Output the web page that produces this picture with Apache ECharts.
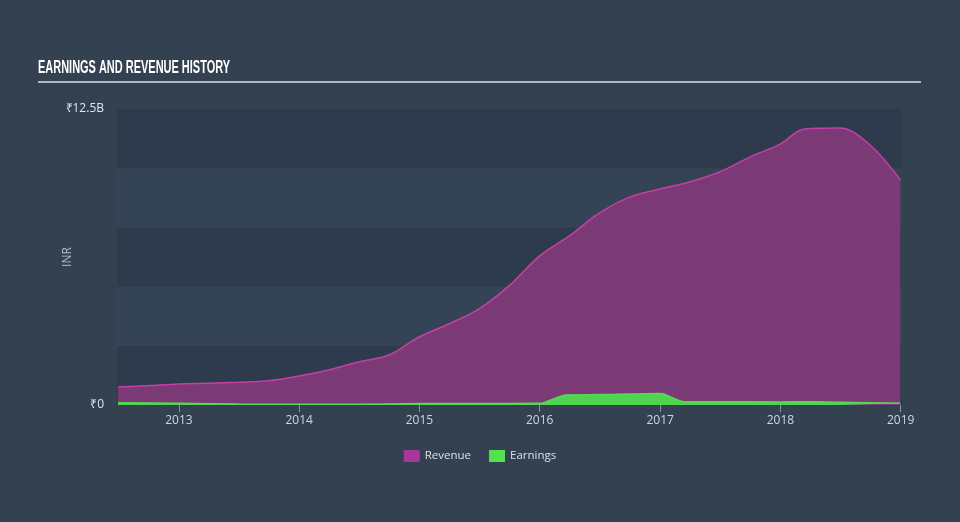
<!DOCTYPE html>
<html><head><meta charset="utf-8">
<script src="https://cdn.jsdelivr.net/npm/echarts@6/dist/echarts.min.js"></script>
<style>html,body{margin:0;padding:0;background:#344150;}#c{width:960px;height:522px;}</style>
</head><body><div id="c"></div>
<script>
const revenueDates = ['2012-06-30','2012-09-30','2012-12-31','2013-03-31','2013-06-30','2013-09-30','2013-12-31','2014-03-31','2014-06-30','2014-09-30','2014-12-31','2015-03-31','2015-06-30','2015-09-30','2015-12-31','2016-03-31','2016-06-30','2016-09-30','2016-12-31','2017-03-31','2017-06-30','2017-09-30','2017-12-31','2018-03-15','2018-06-30','2018-09-30','2018-12-31'];
const revenueValues = [0.76,0.82,0.89,0.92,0.96,1.02,1.22,1.48,1.82,2.11,2.87,3.42,4.05,5.03,6.29,7.14,8.10,8.78,9.12,9.42,9.84,10.47,11.02,11.66,11.70,10.98,9.50];
const earningsDates = ['2012-06-30','2012-12-31','2013-06-30','2013-12-31','2014-06-30','2014-12-31','2015-06-30','2015-12-31','2016-01-10','2016-03-20','2016-06-30','2016-12-31','2017-01-10','2017-03-15','2017-06-30','2017-12-31','2018-03-31','2018-06-30','2018-12-31'];
const earningsValues = [0.10,0.07,0.04,0.03,0.03,0.06,0.06,0.07,0.08,0.42,0.44,0.49,0.48,0.14,0.14,0.13,0.14,0.12,0.07];
const yearTicks = ['2013-01-01','2014-01-01','2015-01-01','2016-01-01','2017-01-01','2018-01-01','2019-01-01'];
const titleText = 'EARNINGS AND REVENUE HISTORY';
const B = 1e9;

const ts = d => Date.parse(d + 'T00:00:00Z');
const titleFont = 'bold 18px "Liberation Sans"';
const cv = document.createElement('canvas').getContext('2d');
cv.font = titleFont;
const titleScale = 192 / cv.measureText(titleText).width;

const chart = echarts.init(document.getElementById('c'));
const tickTimes = yearTicks.map(ts);
chart.setOption({
  backgroundColor: '#344150',
  animation: false,
  grid: {left: 117, right: 58, top: 109, bottom: 117},
  graphic: [
    {type:'text', x: 38, y: 59, scaleX: titleScale, style:{text: titleText, fill:'#ffffff', font: titleFont}},
    {type:'rect', shape:{x:38, y:81, width:883, height:2}, style:{fill:'#b4b9c0'}}
  ],
  legend: {
    bottom: 55, left: 'center', itemWidth: 16, itemHeight: 12, itemGap: 18,
    icon: 'rect',
    textStyle: {color:'#dde1e6', fontSize: 11.5, fontFamily:'Open Sans'},
    data: ['Revenue','Earnings']
  },
  xAxis: {
    type: 'value',
    min: ts('2012-06-27'), max: ts('2019-01-05'),
    axisLine: {show: false},
    axisTick: {show: true, customValues: tickTimes, length: 7, lineStyle:{color:'#8a949f'}},
    axisLabel: {customValues: tickTimes, formatter: v => new Date(v).getUTCFullYear(), color:'#d0d5db', fontSize: 12, fontFamily:'Open Sans', margin: 10},
    splitLine: {show: false}
  },
  yAxis: {
    type: 'value', min: 0, max: 12.5*B, interval: 2.5*B,
    name: 'INR', nameLocation: 'middle', nameGap: 43, nameMoveOverlap: false,
    nameTextStyle: {color:'#b8bec6', fontSize: 12, fontFamily:'Open Sans'},
    axisLine: {show:false}, axisTick: {show:false},
    axisLabel: {color:'#e2e5ea', fontSize: 12, fontFamily:'Open Sans', margin: 13,
      formatter: v => v === 0 ? '₹0' : (Math.abs(v - 12.5*B) < 1 ? '₹12.5B' : '')},
    splitLine: {show:false},
    splitArea: {show:true, areaStyle:{color:['#2e3b4c','#344456']}}
  },
  series: [
    {name:'Revenue', type:'line', smooth: 0.35, symbol:'none',
     data: revenueDates.map((d,i)=>[ts(d), revenueValues[i]*B]),
     lineStyle:{color:'#c43fa6', width:1.5}, itemStyle:{color:'#a8379b'},
     areaStyle:{color:'#7b3a75', opacity:1}},
    {name:'Earnings', type:'line', smooth: 0.2, symbol:'none',
     data: earningsDates.map((d,i)=>[ts(d), earningsValues[i]*B]),
     lineStyle:{color:'#55dc55', width:1.5}, itemStyle:{color:'#52e352'},
     areaStyle:{color:'#4fd44f', opacity:1}}
  ]
});
</script></body></html>
